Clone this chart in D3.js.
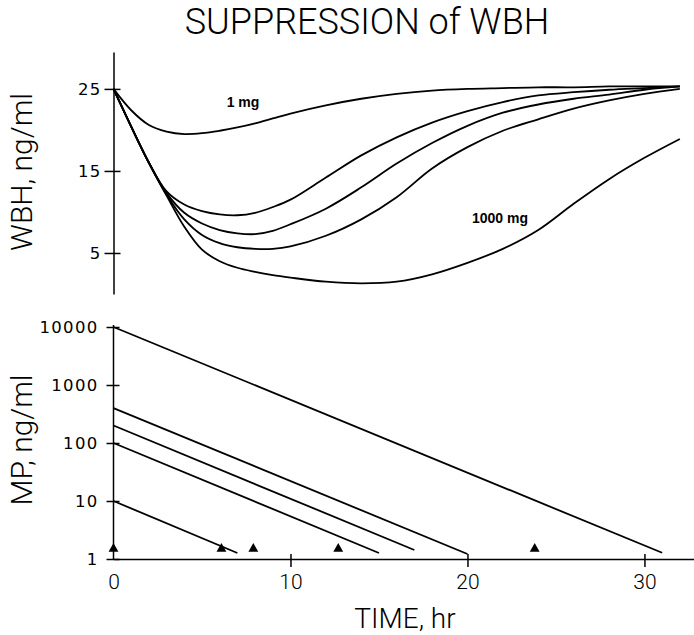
<!DOCTYPE html>
<html>
<head>
<meta charset="utf-8">
<script src="https://cdn.jsdelivr.net/npm/d3@7"></script>
<style>
  body { margin: 0; background: #fff; }
  svg { display: block; }
  .tick text { font-family: "DejaVu Sans", sans-serif; font-size: 16.5px; letter-spacing: 1.3px; fill: #000; }
  .xax .tick text { font-family: Roboto, sans-serif; font-weight: 300; font-size: 21px; letter-spacing: 0; }
  .lbl { font-family: Roboto, sans-serif; font-weight: 300; fill: #000; }
</style>
</head>
<body>
<div id="chart"></div>
<script>
// time grid for WBH curves (hr)
const wbhTimes = [0, 1, 2, 3, 4, 5, 6, 7, 8, 9, 10, 12, 14, 16, 18, 20, 22, 24, 26, 28, 30, 32];

// WBH, ng/ml, lowest dose first
const wbh1mg    = [25, 22.4, 20.6, 19.8, 19.5, 19.6, 19.9, 20.3, 20.8, 21.4, 22, 23, 23.8, 24.4, 24.8, 25, 25.1, 25.2, 25.2, 25.3, 25.3, 25.3];
const wbhDoseB  = [25, 20.4, 16, 12.5, 10.9, 10.1, 9.7, 9.6, 9.9, 10.6, 11.5, 14.2, 16.9, 19.1, 20.9, 22.3, 23.4, 24.2, 24.6, 24.9, 25.1, 25.3];
const wbhDoseC  = [25, 20.4, 16, 12.3, 9.9, 8.6, 7.8, 7.4, 7.3, 7.7, 8.5, 10.4, 13, 15.9, 18.4, 20.5, 22.1, 23.1, 23.8, 24.3, 24.9, 25.3];
const wbhDoseD  = [25, 20.4, 16, 12.1, 9.1, 7.2, 6.2, 5.7, 5.5, 5.5, 5.8, 7.1, 9.1, 11.8, 15.3, 17.9, 19.9, 21.3, 22.6, 23.6, 24.4, 25];
const wbh1000mg = [25, 20.4, 16, 12, 8.2, 5.4, 4.0, 3.2, 2.7, 2.3, 2.0, 1.5, 1.3, 1.5, 2.4, 3.8, 5.5, 7.8, 11, 14, 16.6, 18.9];
const wbhSeries = [wbh1mg, wbhDoseB, wbhDoseC, wbhDoseD, wbh1000mg];

// MP, ng/ml: straight log-linear declines from t=0
const mpStartConc = [10, 100, 200, 400, 10000];
const mpEndTime   = [7, 15, 17, 20, 31];
const mpEndConc   = [1.27, 1.27, 1.43, 1.22, 1.28];

// triangles along the bottom
const markerTimes = [0, 6.1, 7.9, 12.7, 23.8];
const markerConc = 1.5;

const wbhTicks = [25, 15, 5];
const mpTicks = [1, 10, 100, 1000, 10000];
const timeTicks = [0, 10, 20, 30];

const W = 694, H = 635;
const svg = d3.select("#chart").append("svg")
  .attr("width", W)
  .attr("height", H);

const x = d3.scaleLinear().domain([0, 32.8]).range([113.5, 694]);
const yTop = d3.scaleLinear().domain([0, 29.5]).range([294, 52]);
const yBot = d3.scaleLog().domain([1, 10000]).range([559, 327]);

// title
svg.append("text")
  .attr("class", "lbl")
  .attr("x", 367).attr("y", 34)
  .attr("text-anchor", "middle")
  .style("font-size", "36px")
  .text("SUPPRESSION of WBH");

// top y axis
const gTop = svg.append("g")
  .attr("transform", "translate(" + x(0) + ",0)")
  .call(d3.axisLeft(yTop).tickValues(wbhTicks).tickSizeOuter(0).tickFormat(d3.format("d")));
gTop.select(".domain").attr("stroke-width", 1.5);
gTop.selectAll(".tick line").attr("x1", 7).attr("x2", -9).attr("stroke-width", 1.5);
gTop.selectAll(".tick text").attr("x", -12).attr("dy", "0.36em");

// bottom y axis (log)
const gBot = svg.append("g")
  .attr("transform", "translate(" + x(0) + ",0)")
  .call(d3.axisLeft(yBot).tickValues(mpTicks).tickSizeOuter(0).tickFormat(d3.format("d")));
gBot.select(".domain").attr("stroke-width", 1.5).attr("d", "M0,559V325");
gBot.selectAll(".tick line").attr("x1", 6).attr("x2", -7).attr("stroke-width", 1.5);
gBot.selectAll(".tick text").attr("x", -15).attr("dy", "0.36em");

// bottom x axis
const gX = svg.append("g")
  .attr("class", "xax")
  .attr("transform", "translate(0," + yBot(1) + ")")
  .call(d3.axisBottom(x).tickValues(timeTicks).tickSizeOuter(0));
gX.select(".domain").attr("stroke-width", 1.5);
gX.selectAll(".tick line").attr("y1", -5).attr("y2", 8).attr("stroke-width", 1.5);
gX.selectAll(".tick text").attr("y", 15).attr("dy", "0.71em");
gX.selectAll(".tick").filter(d => d === 0).select("line").remove();

// axis titles
svg.append("text")
  .attr("class", "lbl")
  .attr("transform", "translate(32,172) rotate(-90)")
  .attr("text-anchor", "middle")
  .style("font-size", "30px")
  .text("WBH, ng/ml");

svg.append("text")
  .attr("class", "lbl")
  .attr("transform", "translate(32,440) rotate(-90)")
  .attr("text-anchor", "middle")
  .style("font-size", "30px")
  .text("MP, ng/ml");

svg.append("text")
  .attr("class", "lbl")
  .attr("x", 405).attr("y", 628)
  .attr("text-anchor", "middle")
  .style("font-size", "28px")
  .text("TIME, hr");

// WBH curves
const line = d3.line()
  .x(d => x(d[0]))
  .y(d => yTop(d[1]))
  .curve(d3.curveCatmullRom.alpha(0.5));

svg.append("g").selectAll("path")
  .data(wbhSeries.map(s => s.map((v, i) => [wbhTimes[i], v])))
  .join("path")
  .attr("d", line)
  .attr("fill", "none")
  .attr("stroke", "#000")
  .attr("stroke-width", 1.8);

svg.append("text")
  .attr("x", 243).attr("y", 107)
  .attr("text-anchor", "middle")
  .style("font-family", "'Liberation Sans', Arial, sans-serif")
  .style("font-weight", "bold")
  .style("font-size", "14px")
  .text("1 mg");

svg.append("text")
  .attr("x", 500).attr("y", 223)
  .attr("text-anchor", "middle")
  .style("font-family", "'Liberation Sans', Arial, sans-serif")
  .style("font-weight", "bold")
  .style("font-size", "14px")
  .text("1000 mg");

// MP lines
const mpLine = d3.line()
  .x(d => x(d[0]))
  .y(d => yBot(d[1]));

svg.append("g").selectAll("path")
  .data(mpStartConc.map((c, i) => [[0, c], [mpEndTime[i], mpEndConc[i]]]))
  .join("path")
  .attr("d", mpLine)
  .attr("fill", "none")
  .attr("stroke", "#000")
  .attr("stroke-width", 1.8);

// triangles
svg.append("g").selectAll("path")
  .data(markerTimes)
  .join("path")
  .attr("transform", d => "translate(" + x(d) + "," + yBot(markerConc) + ")")
  .attr("d", d3.symbol(d3.symbolTriangle, 42))
  .attr("fill", "#000");
</script>
</body>
</html>
